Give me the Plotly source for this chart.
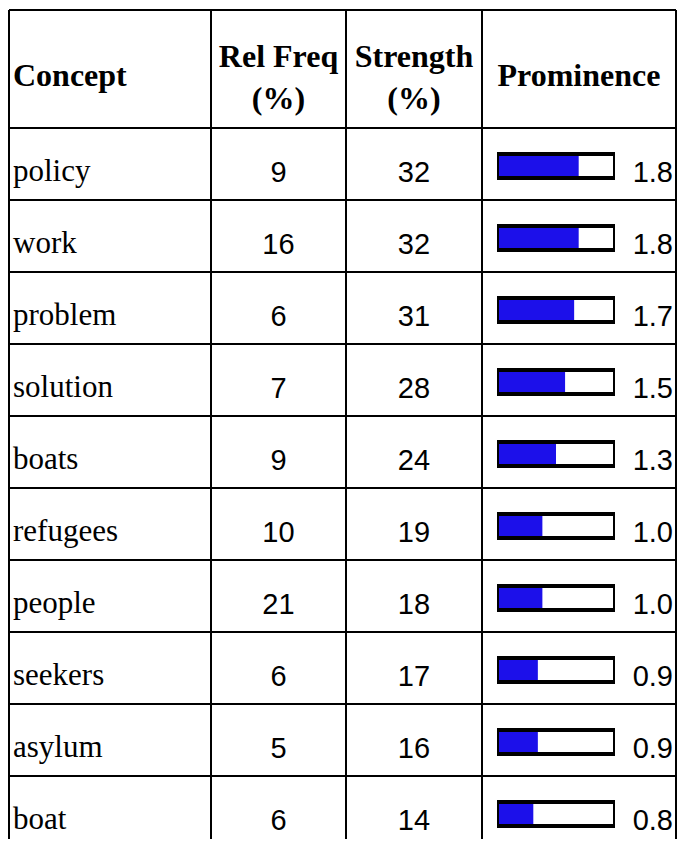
import plotly.graph_objects as go

concepts = ["policy", "work", "problem", "solution", "boats",
            "refugees", "people", "seekers", "asylum", "boat"]
rel_freq = [9, 16, 6, 7, 9, 10, 21, 6, 5, 6]
strength = [32, 32, 31, 28, 24, 19, 18, 17, 16, 14]
prominence = [1.8, 1.8, 1.7, 1.5, 1.3, 1.0, 1.0, 0.9, 0.9, 0.8]
headers = ["Concept", "Rel Freq<br>(%)", "Strength<br>(%)", "Prominence"]

W, H = 685, 847
off = 8  # page body margin
fig_w, fig_h = W - 2 * off, H - 2 * off  # keep page free of scrollbars
col_edges = [9, 211, 346, 482, 676]
top, head_h, row_h = 10, 118, 72
bar_x0, bar_x1 = 497, 615
prom_max = 2.6
blue = "#1c10ea"

row_y = [top + head_h + row_h * i + row_h / 2 for i in range(len(concepts))]
serif = "Liberation Serif, Times New Roman, serif"
sans = "Liberation Sans, Arial, sans-serif"

fig = go.Figure()

# concept names
fig.add_trace(go.Scatter(
    x=[13] * len(concepts), y=[y + 9 for y in row_y],
    text=concepts, mode="text", textposition="middle right",
    textfont=dict(family=serif, size=31, color="black"),
    hoverinfo="skip", showlegend=False))

# numeric columns
for ci, vals in [(1, rel_freq), (2, strength)]:
    cx = (col_edges[ci] + col_edges[ci + 1]) / 2
    fig.add_trace(go.Scatter(
        x=[cx] * len(vals), y=[y + 11 for y in row_y],
        text=[str(v) for v in vals], mode="text", textposition="middle center",
        textfont=dict(family=sans, size=29, color="black"),
        hoverinfo="skip", showlegend=False))

# prominence labels
fig.add_trace(go.Scatter(
    x=[673] * len(prominence), y=[y + 11 for y in row_y],
    text=[f"{v:.1f}" for v in prominence], mode="text", textposition="middle left",
    textfont=dict(family=sans, size=29, color="black"),
    hoverinfo="skip", showlegend=False))

# headers
fig.add_trace(go.Scatter(
    x=[13], y=[top + 68], text=["<b>" + headers[0] + "</b>"],
    mode="text", textposition="middle right",
    textfont=dict(family=serif, size=32, color="black"),
    hoverinfo="skip", showlegend=False))
for ci in range(1, 4):
    cx = (col_edges[ci] + col_edges[ci + 1]) / 2
    fig.add_trace(go.Scatter(
        x=[cx], y=[top + 70 if ci < 3 else top + 68], text=["<b>" + headers[ci] + "</b>"],
        mode="text", textposition="middle center",
        textfont=dict(family=serif, size=32, color="black"),
        hoverinfo="skip", showlegend=False))

# prominence bars on their own axis
bar_y = [y + 2 for y in row_y]
fig.add_trace(go.Bar(
    x=[prom_max] * len(prominence), y=bar_y, orientation="h",
    xaxis="x2", width=24, marker=dict(color="white", line=dict(width=0)),
    hoverinfo="skip", showlegend=False))
fig.add_trace(go.Bar(
    x=prominence, y=bar_y, orientation="h",
    xaxis="x2", width=24, marker=dict(color=blue, line=dict(width=0)),
    hoverinfo="skip", showlegend=False))
fig.add_trace(go.Bar(
    x=[prom_max] * len(prominence), y=bar_y, orientation="h",
    xaxis="x2", width=24,
    marker=dict(color="rgba(0,0,0,0)", line=dict(width=4, color="black")),
    hoverinfo="skip", showlegend=False))

# table grid
shapes = []
for x in col_edges:
    shapes.append(dict(type="line", x0=x, x1=x, y0=top, y1=H + 5,
                       xref="x", yref="y", line=dict(color="black", width=2)))
h_lines = [top] + [top + head_h + row_h * i for i in range(len(concepts))]
for y in h_lines:
    shapes.append(dict(type="line", x0=col_edges[0], x1=col_edges[-1], y0=y, y1=y,
                       xref="x", yref="y", line=dict(color="black", width=2)))

fig.update_layout(
    width=fig_w, height=fig_h,
    margin=dict(l=0, r=0, t=0, b=0),
    paper_bgcolor="white", plot_bgcolor="rgba(0,0,0,0)",
    barmode="overlay",
    shapes=shapes,
    xaxis=dict(range=[off, off + fig_w], visible=False, fixedrange=True),
    xaxis2=dict(range=[0, prom_max],
                domain=[(bar_x0 - off) / fig_w, (bar_x1 - off) / fig_w],
                anchor="y", visible=False, fixedrange=True),
    yaxis=dict(range=[off + fig_h, off], visible=False, fixedrange=True),
)

fig.write_html("out.html")
